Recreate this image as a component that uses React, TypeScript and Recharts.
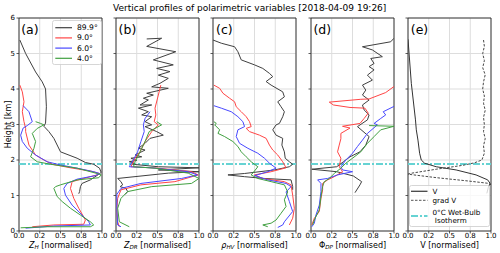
import React from 'react';
import {
  ScatterChart,
  Scatter,
  XAxis,
  YAxis,
  CartesianGrid,
  ReferenceLine,
  ReferenceArea,
  Legend,
} from 'recharts';

type Pt = [number, number]; // [height km, normalised value]

// ---------------- (a) Z_H ----------------
const zh89: Pt[] = [[5.38,0.01],[5.0,0.08],[4.48,0.2],[4.2,0.28],[4.0,0.32],[3.5,0.33],[3.04,0.32],[2.95,0.3],[2.8,0.36],[2.61,0.42],[2.23,0.5],[2.05,0.7],[1.93,0.8],[1.88,0.9],[1.77,0.97],[1.65,0.99],[1.58,0.95],[1.44,0.86],[1.34,0.76],[1.25,0.74],[1.11,0.73],[1.05,0.72]];
const zh9: Pt[] = [[4.11,0.01],[3.92,0.04],[3.64,0.06],[3.36,0.04],[3.08,0.06],[2.89,0.08],[2.8,0.08],[2.42,0.12],[2.14,0.2],[2.0,0.3],[1.88,0.4],[1.78,0.62],[1.69,0.86],[1.62,0.97],[1.58,0.94],[1.48,0.78],[1.39,0.64],[1.2,0.62],[0.92,0.66],[0.64,0.72],[0.31,0.8],[0.19,0.78],[0.17,0.42],[0.12,0.16]];
const zh6: Pt[] = [[3.53,0.05],[3.36,0.12],[3.08,0.16],[2.97,0.1],[2.9,0.05],[2.7,0.02],[2.52,0.04],[2.33,0.1],[2.14,0.2],[1.95,0.34],[1.86,0.5],[1.77,0.7],[1.67,0.9],[1.62,0.97],[1.56,0.92],[1.46,0.7],[1.34,0.58],[1.2,0.54],[1.01,0.56],[0.73,0.64],[0.45,0.76],[0.26,0.84],[0.17,0.86],[0.14,0.42],[0.08,0.08]];
const zh4: Pt[] = [[3.08,0.2],[3.03,0.26],[2.99,0.3],[2.89,0.22],[2.75,0.16],[2.52,0.2],[2.33,0.18],[2.09,0.14],[1.95,0.22],[1.88,0.38],[1.77,0.7],[1.62,0.94],[1.58,0.99],[1.5,0.96],[1.44,0.7],[1.3,0.5],[1.25,0.44],[1.2,0.42],[0.97,0.46],[0.83,0.52],[0.64,0.62],[0.45,0.74],[0.26,0.86],[0.17,0.9],[0.12,0.86],[0.12,0.34],[0.09,0.02]];

// ---------------- (b) Z_DR ----------------
const zdr89: Pt[] = [[5.41,0.37],[5.43,0.55],[5.2,0.37],[5.05,0.72],[4.82,0.45],[4.68,0.69],[4.58,0.49],[4.49,0.65],[4.39,0.51],[4.3,0.63],[4.16,0.53],[4.06,0.43],[4.02,0.63],[3.88,0.37],[3.83,0.45],[3.74,0.33],[3.69,0.39],[3.55,0.29],[3.55,0.43],[3.46,0.27],[3.36,0.39],[3.27,0.31],[3.22,0.43],[3.08,0.35],[2.99,0.43],[2.94,0.35],[2.8,0.49],[2.7,0.57],[2.61,0.41],[2.47,0.35],[2.33,0.27],[2.28,0.35],[2.14,0.23],[2.09,0.31],[2.05,0.18],[1.99,0.25],[1.95,0.16],[1.92,0.21],[1.88,0.2],[1.81,0.51],[1.78,1.0],[1.72,0.51],[1.67,1.0],[1.63,0.63],[1.48,0.02],[1.39,0.06],[1.3,0.08],[1.25,0.05],[1.2,0.12],[1.11,0.14],[1.03,0.11]];
const zdr9: Pt[] = [[4.11,0.54],[3.83,0.51],[3.46,0.47],[3.27,0.48],[3.08,0.46],[2.99,0.51],[2.8,0.43],[2.52,0.35],[2.23,0.29],[2.05,0.23],[1.81,0.18],[1.77,0.51],[1.67,0.91],[1.58,0.99],[1.39,0.71],[1.3,0.3],[1.16,0.06],[0.92,0.02],[0.6,0.01],[0.26,0.02],[0.12,0.04]];
const zdr6: Pt[] = [[3.36,0.41],[3.17,0.35],[2.99,0.33],[2.8,0.34],[2.52,0.3],[2.23,0.26],[2.05,0.22],[1.81,0.16],[1.78,0.43],[1.67,0.87],[1.58,0.98],[1.48,0.79],[1.34,0.3],[1.2,0.06],[1.03,0.01],[0.6,0.01],[0.17,0.02],[0.12,0.06]];
const zdr4: Pt[] = [[3.08,0.49],[2.99,0.55],[2.8,0.4],[2.52,0.35],[2.23,0.29],[1.95,0.23],[1.81,0.21],[1.77,0.47],[1.63,0.87],[1.48,1.0],[1.34,0.91],[1.25,0.43],[1.11,0.14],[0.92,0.06],[0.64,0.02],[0.26,0.04],[0.12,0.16]];

// ---------------- (c) rho_HV ----------------
const rho89: Pt[] = [[5.38,0.0],[5.29,0.1],[5.19,0.26],[5.05,0.3],[4.82,0.34],[4.68,0.5],[4.58,0.6],[4.44,0.68],[4.35,0.72],[4.21,0.64],[4.11,0.7],[3.92,0.84],[3.78,0.86],[3.64,0.78],[3.5,0.82],[3.36,0.86],[3.22,0.84],[3.03,0.8],[2.99,0.76],[2.85,0.72],[2.7,0.76],[2.61,0.84],[2.42,0.83],[2.23,0.86],[2.05,0.87],[1.95,0.92],[1.88,0.96],[1.81,0.92],[1.72,0.74],[1.62,0.38],[1.58,0.18],[1.53,0.38],[1.48,0.62],[1.44,0.94],[1.25,0.96],[1.16,0.96]];
const rho9: Pt[] = [[4.11,0.01],[4.02,0.08],[3.88,0.12],[3.74,0.2],[3.64,0.26],[3.5,0.28],[3.36,0.34],[3.22,0.4],[3.08,0.44],[2.94,0.46],[2.89,0.4],[2.8,0.44],[2.7,0.56],[2.61,0.64],[2.42,0.68],[2.28,0.72],[2.14,0.78],[1.95,0.84],[1.78,0.88],[1.67,0.7],[1.58,0.5],[1.48,0.6],[1.39,0.86],[1.3,0.94],[1.01,0.96],[0.64,0.98],[0.36,0.96],[0.17,0.92]];
const rho6: Pt[] = [[3.53,0.01],[3.46,0.1],[3.36,0.22],[3.22,0.3],[3.08,0.36],[2.94,0.38],[2.85,0.3],[2.66,0.28],[2.47,0.32],[2.33,0.42],[2.19,0.54],[2.05,0.62],[1.91,0.68],[1.77,0.76],[1.67,0.66],[1.56,0.5],[1.44,0.66],[1.34,0.88],[1.25,0.94],[1.1,0.88],[0.83,0.92],[0.55,0.96],[0.26,0.86],[0.17,0.84],[0.1,0.78]];
const rho4: Pt[] = [[3.08,0.01],[3.03,0.04],[2.99,0.02],[2.85,0.08],[2.75,0.06],[2.66,0.14],[2.52,0.24],[2.38,0.3],[2.23,0.34],[2.09,0.4],[1.95,0.46],[1.81,0.54],[1.69,0.5],[1.58,0.46],[1.48,0.54],[1.39,0.7],[1.3,0.86],[1.1,0.9],[0.88,0.86],[0.69,0.88],[0.5,0.82],[0.31,0.76],[0.22,0.7],[0.17,0.6],[0.12,0.66]];

// ---------------- (d) Phi_DP ----------------
const phi89: Pt[] = [[5.43,1.0],[5.33,0.96],[5.19,0.62],[5.1,0.74],[4.91,0.86],[4.86,0.72],[4.72,0.76],[4.63,0.7],[4.54,0.76],[4.39,0.68],[4.25,0.74],[4.11,0.62],[3.97,0.66],[3.83,0.62],[3.69,0.7],[3.55,0.62],[3.41,0.64],[3.27,0.7],[3.13,0.68],[2.94,0.56],[2.66,0.7],[2.42,0.66],[2.23,0.59],[2.09,0.47],[1.95,0.39],[1.81,0.31],[1.74,0.01],[1.67,0.31],[1.55,0.51],[1.39,0.61],[1.3,0.59],[1.08,0.53]];
const phi9: Pt[] = [[4.07,1.0],[3.9,0.9],[3.72,0.7],[3.71,0.6],[3.63,0.22],[3.55,0.27],[3.48,0.47],[3.46,0.65],[3.32,0.69],[3.17,0.64],[3.03,0.59],[2.95,0.38],[2.9,0.47],[2.75,0.36],[2.6,0.36],[2.42,0.34],[2.23,0.32],[2.05,0.36],[1.81,0.34],[1.67,0.38],[1.53,0.28],[1.44,0.2],[1.34,0.14],[1.16,0.14],[0.92,0.12],[0.55,0.1],[0.36,0.04],[0.17,0.01]];
const phi6: Pt[] = [[3.51,1.0],[3.36,0.87],[3.27,0.9],[3.17,0.84],[3.03,0.76],[2.99,0.8],[2.75,0.68],[2.56,0.62],[2.38,0.56],[2.19,0.5],[2.0,0.42],[1.81,0.36],[1.72,0.38],[1.67,0.5],[1.58,0.32],[1.48,0.2],[1.44,0.08],[1.34,0.12],[1.11,0.12],[0.73,0.1],[0.45,0.06],[0.22,0.04],[0.12,0.01]];
const phi4: Pt[] = [[2.97,0.7],[2.95,1.0],[2.85,0.84],[2.66,0.76],[2.47,0.68],[2.23,0.6],[2.05,0.5],[1.91,0.42],[1.77,0.36],[1.62,0.28],[1.48,0.22],[1.39,0.16],[1.25,0.14],[0.97,0.12],[0.6,0.1],[0.31,0.04],[0.17,0.02]];

// ---------------- (e) V ----------------
const vel: Pt[] = [[5.4,0.0],[4.16,0.04],[3.13,0.09],[2.85,0.1],[2.56,0.12],[2.19,0.14],[2.0,0.16],[1.91,0.2],[1.81,0.34],[1.72,0.58],[1.58,0.82],[1.44,0.96],[1.34,0.99],[1.25,0.97],[1.06,0.95]];
const gradVel: Pt[] = [[5.38,0.91],[5.2,0.92],[5.0,0.9],[4.8,0.92],[4.6,0.9],[4.4,0.93],[4.2,0.91],[4.0,0.9],[3.8,0.92],[3.6,0.91],[3.4,0.93],[3.2,0.91],[3.0,0.92],[2.8,0.91],[2.6,0.93],[2.4,0.91],[2.19,0.92],[2.0,0.89],[1.92,0.8],[1.85,0.66],[1.74,0.34],[1.62,0.02],[1.6,0.0],[1.5,0.35],[1.41,0.72],[1.34,0.98],[1.3,1.0]];

const xTicks = [0, 0.25, 0.5, 0.75, 1];
const xTickLabels = ['0.0', '0.2', '0.5', '0.8', '1.0'];
const yTicks = [0, 1, 2, 3, 4, 5, 6];
const isothermKm = 1.89;
const elevationNames = ['89.9°', '9.0°', '6.0°', '4.0°'];
const elevationColors = ['#404040', '#ff4545', '#4848ff', '#40a040'];
const panelLetters = ['(a)', '(b)', '(c)', '(d)', '(e)'];
const title = 'Vertical profiles of polarimetric variables [2018-04-09 19:26]';

const FONT = '"DejaVu Sans", sans-serif';
const PLOT_W = 83;
const YW = 20;
const RM = 9;
const panelLefts = [18.6, 116, 213.4, 310.8, 408.2];
const CYAN = '#66d3d3';

type Series = { name: string; data: Pt[]; color: string; dash?: string; width?: number };

const toXY = (d: Pt[]) => d.map(([h, v]) => ({ x: v, y: h }));
const NoDot = () => null;
const EmptyTick = () => <g />;

const elevSeries = (arrs: Pt[][]): Series[] =>
  arrs.map((d, i) => ({ name: elevationNames[i], data: d, color: elevationColors[i] }));

function makeTitle(parts: React.ReactNode) {
  return () => (
    <text x={YW + PLOT_W / 2} y={247.5} textAnchor="middle" fontSize={8} fontFamily={FONT} fill="#000">
      {parts}
    </text>
  );
}

const subTitle = (main: string, sub: string, mainItalic: boolean) => (
  <>
    <tspan fontStyle={mainItalic ? 'italic' : 'normal'}>{main}</tspan>
    <tspan fontStyle="italic" fontSize={5.6} dy={1.6}>{sub}</tspan>
    <tspan dy={-1.6}> [normalised]</tspan>
  </>
);

type Row = { color: string; dash?: string; width: number; lines: string[]; y: number; lineY?: number };

function LegendBox({ w, h, rows, x1, x2, tx, fs, lh }: { w: number; h: number; rows: Row[]; x1: number; x2: number; tx: number; fs: number; lh: number }) {
  return (
    <svg width={w} height={h} style={{ display: 'block', overflow: 'visible' }}>
      <rect x={0.5} y={0.5} width={w - 1} height={h - 1} rx={2} fill="#ffffff" fillOpacity={0.8} stroke="#cccccc" strokeWidth={0.8} />
      {rows.map((r, i) => (
        <g key={i}>
          <line x1={x1} x2={x2} y1={r.lineY ?? r.y} y2={r.lineY ?? r.y} stroke={r.color} strokeWidth={r.width} strokeDasharray={r.dash} />
          {r.lines.map((t, j) => (
            <text key={j} x={tx} y={r.y + j * lh} fontSize={fs} fontFamily={FONT} fill="#000" dominantBaseline="central" xmlSpace="preserve">
              {t}
            </text>
          ))}
        </g>
      ))}
    </svg>
  );
}

function Panel({ idx, series, xTitle, legend }: { idx: number; series: Series[]; xTitle: any; legend?: React.ReactNode }) {
  const left = panelLefts[idx];
  const showY = idx === 0;
  return (
    <div style={{ position: 'absolute', left: left - YW, top: 0 }}>
      <ScatterChart width={YW + PLOT_W + RM} height={253} margin={{ top: 18, right: RM, bottom: 0, left: 0 }}>
        <CartesianGrid stroke="#dddddd" strokeWidth={1} />
        <XAxis
          type="number"
          dataKey="x"
          domain={[0, 1]}
          ticks={xTicks}
          interval={0}
          allowDataOverflow
          height={22}
          axisLine={false}
          tickSize={2.5}
          tickMargin={0}
          tickLine={{ stroke: '#333', strokeWidth: 0.8 }}
          tick={{ fontSize: 7, fill: '#000', fontFamily: FONT }}
          tickFormatter={(v: number) => xTickLabels[xTicks.indexOf(v)]}
          label={xTitle}
        />
        <YAxis
          type="number"
          dataKey="y"
          domain={[0, 6]}
          ticks={yTicks}
          interval={0}
          allowDataOverflow
          width={YW}
          axisLine={false}
          tickSize={2.5}
          tickMargin={1.5}
          tickLine={{ stroke: '#333', strokeWidth: 0.8 }}
          tick={showY ? { fontSize: 7, fill: '#000', fontFamily: FONT } : EmptyTick}
        />
        <ReferenceLine y={isothermKm} stroke={CYAN} strokeWidth={2} strokeDasharray="7 2 2 2" />
        {series.map((s) => (
          <Scatter
            key={s.name}
            name={s.name}
            data={toXY(s.data)}
            fill={s.color}
            line={{ stroke: s.color, strokeWidth: s.width ?? 1, strokeDasharray: s.dash }}
            shape={NoDot}
            legendType="none"
            isAnimationActive={false}
          />
        ))}
        <ReferenceArea x1={0} x2={1} y1={0} y2={6} fill="none" stroke="#262626" strokeWidth={0.9} />
        {legend}
      </ScatterChart>
    </div>
  );
}

export default function App() {
  const legendA = (
    <Legend
      layout="vertical"
      align="center"
      verticalAlign="middle"
      wrapperStyle={{ left: 51.7 - (panelLefts[0] - YW), top: 20, width: 50, height: 45 }}
      content={() => (
        <LegendBox
          w={50}
          h={45}
          x1={3.3}
          x2={20}
          tx={25}
          fs={7.6}
          lh={0}
          rows={elevationNames.map((n, i) => ({ color: elevationColors[i], width: 1.2, lines: [n], y: 7.7 + i * 10.2 }))}
        />
      )}
    />
  );
  const legendE = (
    <Legend
      layout="vertical"
      align="center"
      verticalAlign="middle"
      wrapperStyle={{ left: 408.6 - (panelLefts[4] - YW), top: 185, width: 81, height: 42 }}
      content={() => (
        <LegendBox
          w={81}
          h={42}
          x1={2}
          x2={18.5}
          tx={23.5}
          fs={7.2}
          lh={7.8}
          rows={[
            { color: '#444', width: 1.3, lines: ['V'], y: 6.3 },
            { color: '#444', width: 0.9, dash: '2.5 1.5', lines: ['grad V'], y: 15.3 },
            { color: CYAN, width: 2, dash: '7 2 2 2', lines: ['0°C Wet-Bulb', ' Isotherm'], y: 27.2, lineY: 31.1 },
          ]}
        />
      )}
    />
  );

  return (
    <div style={{ position: 'absolute', left: 0, top: 0, width: 500, height: 253, background: '#fff', overflow: 'hidden' }}>
      <Panel idx={0} series={elevSeries([zh89, zh9, zh6, zh4])} xTitle={makeTitle(subTitle('Z', 'H', true))} legend={legendA} />
      <Panel idx={1} series={elevSeries([zdr89, zdr9, zdr6, zdr4])} xTitle={makeTitle(subTitle('Z', 'DR', true))} />
      <Panel idx={2} series={elevSeries([rho89, rho9, rho6, rho4])} xTitle={makeTitle(subTitle('ρ', 'HV', true))} />
      <Panel idx={3} series={elevSeries([phi89, phi9, phi6, phi4])} xTitle={makeTitle(subTitle('Φ', 'DP', false))} />
      <Panel
        idx={4}
        series={[
          { name: 'V', data: vel, color: '#333333', width: 1 },
          { name: 'grad V', data: gradVel, color: '#333333', dash: '2.5 1.5', width: 0.9 },
        ]}
        xTitle={makeTitle(<tspan>V [normalised]</tspan>)}
        legend={legendE}
      />
      <svg width={500} height={253} style={{ position: 'absolute', left: 0, top: 0, pointerEvents: 'none' }}>
        <text x={249.7} y={10.5} textAnchor="middle" fontSize={9} fontFamily={FONT} fill="#000">
          {title}
        </text>
        <text
          transform="translate(8,124.5) rotate(-90)"
          textAnchor="middle"
          dominantBaseline="central"
          fontSize={8}
          fontFamily={FONT}
          fill="#000"
        >
          Height [km]
        </text>
        {panelLetters.map((l, i) => (
          <text key={l} x={panelLefts[i] + 2.6} y={33.5} fontSize={12.5} fontFamily={FONT} fill="#000">
            {l}
          </text>
        ))}
      </svg>
    </div>
  );
}
